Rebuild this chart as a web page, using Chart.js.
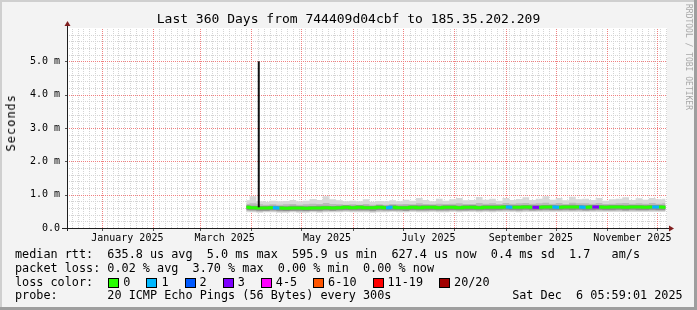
<!DOCTYPE html>
<html><head><meta charset="utf-8">
<script src="https://cdn.jsdelivr.net/npm/chart.js@4.4.0/dist/chart.umd.min.js"></script>
<style>
html,body{margin:0;padding:0;background:#f3f3f3;}
#wrap{position:relative;width:697px;height:310px;background:#f3f3f3;box-shadow:inset -3px -3px 0 #9e9e9e, inset 2px 2px 0 #cfcfcf;overflow:hidden;font-family:"DejaVu Sans Mono",monospace;color:#000;}
canvas{position:absolute;left:0;top:0;}
.t{position:absolute;white-space:pre;}
#title{left:0;width:697px;text-align:center;top:11px;font-size:13px;line-height:16px;}
.lg{left:15px;font-size:11.8px;line-height:14px;}
.box{display:inline-block;width:9px;height:8px;border:1px solid #000;vertical-align:top;margin-top:3px;margin-left:1px;margin-right:4px;}
.lab{margin-right:15px;}
#ylab{left:4px;top:94px;font-size:12px;line-height:14px;letter-spacing:1px;writing-mode:vertical-rl;transform:rotate(180deg);}
#wm{left:684px;top:4px;font-size:8px;line-height:9px;writing-mode:vertical-rl;color:#a8a8a8;}
</style>
</head><body>
<div id="wrap">
<canvas id="c" width="697" height="310"></canvas>
<div class="t" id="title"></div>
<div class="t" id="ylab"></div>
<div class="t" id="wm"></div>
<div class="t lg" id="l1" style="top:246.6px"></div>
<div class="t lg" id="l2" style="top:260.5px"></div>
<div class="t lg" id="l3" style="top:274.6px"></div>
<div class="t lg" id="l4" style="top:288px"></div>
</div>
<script>
// ---- texts ----
const titleText = 'Last 360 Days from 744409d04cbf to 185.35.202.209';
const yAxisTitle = 'Seconds';
const watermark = 'RRDTOOL / TOBI OETIKER';
const legendLine1 = 'median rtt:  635.8 us avg  5.0 ms max  595.9 us min  627.4 us now  0.4 ms sd  1.7   am/s';
const legendLine2 = 'packet loss: 0.02 % avg  3.70 % max  0.00 % min  0.00 % now';
const legendLine3Head = 'loss color:  ';
const legendLine4 = 'probe:       20 ICMP Echo Pings (56 Bytes) every 300s                 Sat Dec  6 05:59:01 2025';

// ---- axes (x in days from 1 Jan 2025, y in milliseconds) ----
const xMin = -20.75, xMax = 339.25;
const yMin = 0, yMax = 6;
const monthLabels = ['January 2025','March 2025','May 2025','July 2025','September 2025','November 2025'];
const monthLabelDays = [15.5, 74, 135.5, 196.5, 258, 319];
const monthStarts = [0, 31, 59, 90, 120, 151, 181, 212, 243, 273, 304, 334];
const yTicks = [0, 1, 2, 3, 4, 5];
const yTickLabels = ['0.0','1.0 m','2.0 m','3.0 m','4.0 m','5.0 m'];

// ---- loss legend ----
const lossLabels = ['0','1','2','3','4-5','6-10','11-19','20/20'];
const lossColors = ['#26ff00','#00b8ff','#0059ff','#7e00ff','#ff00ff','#ff5500','#ff0000','#a10000'];

// ---- series ----
const days = [87,91,95,99,103,107,111,115,119,123,127,131,135,139,143,147,151,155,159,163,167,171,175,179,183,187,191,195,199,203,207,211,215,219,223,227,231,235,239,243,247,251,255,259,263,267,271,275,279,283,287,291,295,299,303,307,311,315,319,323,327,331,335,339];
const median = [0.62,0.61,0.60,0.60,0.61,0.60,0.59,0.60,0.60,0.59,
 0.60,0.60,0.61,0.60,0.61,0.62,0.61,0.62,0.61,0.61,
 0.62,0.61,0.62,0.61,0.61,0.62,0.61,0.62,0.62,0.61,
 0.62,0.62,0.61,0.62,0.62,0.61,0.62,0.62,0.62,0.63,
 0.62,0.62,0.63,0.62,0.62,0.63,0.63,0.62,0.63,0.63,
 0.63,0.62,0.63,0.63,0.62,0.63,0.63,0.62,0.63,0.63,
 0.62,0.63,0.63,0.62];
const loss = [0,0,0,0,1,0,0,0,0,0,
 0,0,0,0,0,0,0,0,0,0,
 0,1,0,0,0,0,0,0,0,0,
 0,0,0,0,0,0,0,0,0,1,
 0,0,0,3,0,0,1,0,0,0,
 1,0,3,0,0,0,0,0,0,0,
 0,1,0,0];
const smokeMax = [0.83,0.95,0.80,0.79,0.82,0.80,0.81,0.84,0.80,0.82,
 0.87,0.84,0.95,0.86,0.83,0.80,0.82,0.80,0.86,0.79,
 0.81,0.80,0.83,0.80,0.85,0.82,0.90,0.84,0.80,0.88,
 0.82,0.86,0.90,0.83,0.84,0.93,0.85,0.88,0.82,0.90,
 0.84,0.87,0.92,0.84,0.88,0.95,0.85,0.90,0.83,0.94,
 0.86,0.88,0.84,0.90,0.82,0.86,0.88,0.92,0.84,0.89,
 0.85,0.90,0.86,0.88];
const smokeHi = [0.72,0.74,0.71,0.70,0.71,0.70,0.71,0.72,0.70,0.71,
 0.73,0.72,0.75,0.72,0.71,0.70,0.71,0.70,0.72,0.70,
 0.71,0.70,0.72,0.71,0.72,0.71,0.74,0.72,0.71,0.73,
 0.72,0.73,0.74,0.72,0.72,0.75,0.73,0.74,0.72,0.75,
 0.73,0.74,0.75,0.73,0.74,0.76,0.73,0.75,0.72,0.76,
 0.74,0.74,0.73,0.75,0.72,0.73,0.74,0.75,0.73,0.74,
 0.73,0.75,0.73,0.74];
const smokeInnerHi = [0.68,0.67,0.66,0.66,0.67,0.66,0.65,0.67,0.66,0.65,
 0.66,0.67,0.67,0.66,0.67,0.68,0.67,0.68,0.67,0.66,
 0.68,0.67,0.68,0.67,0.67,0.68,0.68,0.68,0.68,0.67,
 0.68,0.68,0.67,0.68,0.69,0.67,0.68,0.68,0.68,0.69,
 0.68,0.68,0.69,0.68,0.68,0.69,0.69,0.68,0.69,0.70,
 0.69,0.68,0.69,0.69,0.68,0.69,0.69,0.68,0.69,0.69,
 0.68,0.69,0.69,0.68];
const smokeInnerLo = [0.54,0.53,0.52,0.52,0.53,0.52,0.51,0.52,0.52,0.51,
 0.52,0.52,0.53,0.52,0.53,0.54,0.53,0.53,0.53,0.52,
 0.54,0.53,0.53,0.53,0.52,0.54,0.53,0.53,0.54,0.53,
 0.53,0.54,0.53,0.53,0.54,0.53,0.54,0.53,0.54,0.55,
 0.54,0.53,0.55,0.53,0.54,0.55,0.54,0.54,0.55,0.54,
 0.55,0.53,0.54,0.55,0.54,0.54,0.55,0.53,0.55,0.54,
 0.54,0.55,0.54,0.54];
const smokeLo = [0.51,0.50,0.49,0.50,0.50,0.49,0.49,0.50,0.49,0.49,
 0.50,0.49,0.50,0.50,0.50,0.51,0.50,0.50,0.50,0.49,
 0.50,0.50,0.51,0.50,0.50,0.51,0.50,0.50,0.51,0.50,
 0.50,0.51,0.50,0.51,0.51,0.50,0.51,0.50,0.51,0.52,
 0.51,0.50,0.52,0.51,0.51,0.52,0.51,0.51,0.52,0.51,
 0.52,0.51,0.51,0.52,0.51,0.51,0.52,0.51,0.52,0.51,
 0.51,0.52,0.51,0.51];
const smokeMin = [0.47,0.47,0.46,0.47,0.47,0.46,0.46,0.47,0.46,0.46,
 0.47,0.46,0.47,0.47,0.47,0.48,0.47,0.47,0.47,0.46,
 0.47,0.47,0.48,0.47,0.47,0.48,0.47,0.47,0.48,0.47,
 0.47,0.48,0.47,0.48,0.48,0.47,0.48,0.47,0.48,0.48,
 0.48,0.47,0.48,0.48,0.48,0.48,0.48,0.48,0.48,0.48,
 0.48,0.48,0.48,0.48,0.48,0.48,0.48,0.48,0.48,0.48,
 0.48,0.48,0.48,0.48];
const spikeDay = 94.5, spikeLow = 0.62, spikeHigh = 5.0;

// ---- HTML texts ----
document.getElementById('title').textContent = titleText;
document.getElementById('ylab').textContent = yAxisTitle;
document.getElementById('wm').textContent = watermark;
document.getElementById('l1').textContent = legendLine1;
document.getElementById('l2').textContent = legendLine2;
document.getElementById('l4').textContent = legendLine4;
const l3 = document.getElementById('l3');
l3.appendChild(document.createTextNode(legendLine3Head));
lossLabels.forEach((lab, i) => {
  const b = document.createElement('span'); b.className = 'box'; b.style.background = lossColors[i];
  const s = document.createElement('span'); s.className = 'lab'; s.textContent = lab;
  l3.appendChild(b); l3.appendChild(s);
});

// ---- chart ----
const pts = arr => days.map((d, i) => ({x: d, y: arr[i]}));
const band = (arr, color, fillTo, order) => ({
  data: pts(arr), borderWidth: 0, pointRadius: 0, stepped: 'middle',
  backgroundColor: color, borderColor: 'rgba(0,0,0,0)', fill: fillTo, order
});

const rrdGrid = {
  id: 'rrdGrid',
  beforeDatasetsDraw(chart) {
    const {ctx, chartArea: a, scales: {x, y}} = chart;
    ctx.save();
    ctx.fillStyle = '#ffffff';
    ctx.fillRect(a.left, a.top, a.right - a.left + 1, a.bottom - a.top);
    ctx.lineWidth = 1;
    ctx.setLineDash([1, 1]);
    const hl = (v, c) => { const p = Math.round(y.getPixelForValue(v)) + 0.5; ctx.strokeStyle = c; ctx.beginPath(); ctx.moveTo(a.left, p); ctx.lineTo(a.right + 1, p); ctx.stroke(); };
    const vl = (v, c) => { const p = Math.round(x.getPixelForValue(v)) + 0.5; ctx.strokeStyle = c; ctx.beginPath(); ctx.moveTo(p, a.bottom); ctx.lineTo(p, a.top); ctx.stroke(); };
    for (let k = 1; k <= 30; k++) { if (k % 5) hl(k * 0.2, '#d4d4d4'); }
    for (let d = -0.4 - 3.5 * 6; d <= xMax; d += 3.5) {
      if (d < xMin) continue;
      if (monthStarts.some(m => Math.abs(m - d) < 1)) continue;
      vl(d, '#d4d4d4');
    }
    for (let k = 1; k <= 5; k++) hl(k, '#f08080');
    monthStarts.forEach(m => vl(m, '#f08080'));
    ctx.restore();
  },
  afterDatasetsDraw(chart) {
    const {ctx, chartArea: a, scales: {x, y}} = chart;
    ctx.save();
    ctx.strokeStyle = '#1f1f1f'; ctx.lineWidth = 1;
    const bx = a.left + 0.5, by = a.bottom + 0.5;
    ctx.beginPath(); ctx.moveTo(a.left - 5, by); ctx.lineTo(a.right + 3, by); ctx.stroke();
    ctx.beginPath(); ctx.moveTo(bx, a.bottom + 3); ctx.lineTo(bx, a.top - 2); ctx.stroke();
    ctx.strokeStyle = '#555';
    monthStarts.forEach(m => { const p = Math.round(x.getPixelForValue(m)) + 0.5; ctx.beginPath(); ctx.moveTo(p, a.bottom + 1); ctx.lineTo(p, a.bottom + 3); ctx.stroke(); });
    yTicks.forEach(v => { if (!v) return; const p = Math.round(y.getPixelForValue(v)) + 0.5; ctx.beginPath(); ctx.moveTo(a.left - 2, p); ctx.lineTo(a.left, p); ctx.stroke(); });
    ctx.fillStyle = '#801f1f';
    ctx.beginPath(); ctx.moveTo(bx, a.top - 7); ctx.lineTo(bx - 3, a.top - 2); ctx.lineTo(bx + 3, a.top - 2); ctx.closePath(); ctx.fill();
    ctx.beginPath(); ctx.moveTo(a.right + 8, by); ctx.lineTo(a.right + 3, by - 3); ctx.lineTo(a.right + 3, by + 3); ctx.closePath(); ctx.fill();
    ctx.restore();
  }
};

new Chart(document.getElementById('c'), {
  type: 'line',
  data: {
    datasets: [
      { data: pts(median), borderWidth: 3, pointRadius: 0, stepped: 'middle', fill: false, order: 1,
        borderColor: lossColors[0], borderCapStyle: 'butt',
        segment: { borderColor: c => lossColors[loss[c.p0DataIndex]] } },
      { data: [{x: spikeDay, y: spikeLow}, {x: spikeDay, y: spikeHigh}], borderWidth: 2, pointRadius: 0,
        borderColor: '#111', fill: false, order: 0 },
      band(smokeInnerHi, '#8f8f8f', 3, 2),
      band(smokeInnerLo, 'rgba(0,0,0,0)', false, 2),
      band(smokeHi, '#b9b9b9', 5, 3),
      band(smokeLo, 'rgba(0,0,0,0)', false, 3),
      band(smokeMax, '#d8d8d8', 7, 4),
      band(smokeMin, 'rgba(0,0,0,0)', false, 4)
    ]
  },
  options: {
    responsive: false, animation: false, devicePixelRatio: 1,
    layout: { padding: { top: 28, right: 31, left: 0, bottom: 0 } },
    plugins: { legend: { display: false }, tooltip: { enabled: false }, title: { display: false } },
    scales: {
      x: {
        type: 'linear', min: xMin, max: xMax,
        grid: { display: false, drawTicks: false }, border: { display: false },
        afterFit: s => { s.height = 82; },
        afterBuildTicks: s => { s.ticks = monthLabelDays.map(v => ({value: v})); },
        ticks: { autoSkip: false, maxRotation: 0, minRotation: 0, padding: 4, color: '#000',
          font: { family: 'DejaVu Sans Mono', size: 10 },
          callback: (v, i) => monthLabels[i] }
      },
      y: {
        type: 'linear', min: yMin, max: yMax,
        grid: { display: false, drawTicks: false }, border: { display: false },
        afterFit: s => { s.width = 67; },
        afterBuildTicks: s => { s.ticks = yTicks.map(v => ({value: v})); },
        ticks: { autoSkip: false, padding: 7, color: '#000',
          font: { family: 'DejaVu Sans Mono', size: 10 },
          callback: (v, i) => yTickLabels[i] }
      }
    }
  },
  plugins: [rrdGrid]
});
</script>
</body></html>
